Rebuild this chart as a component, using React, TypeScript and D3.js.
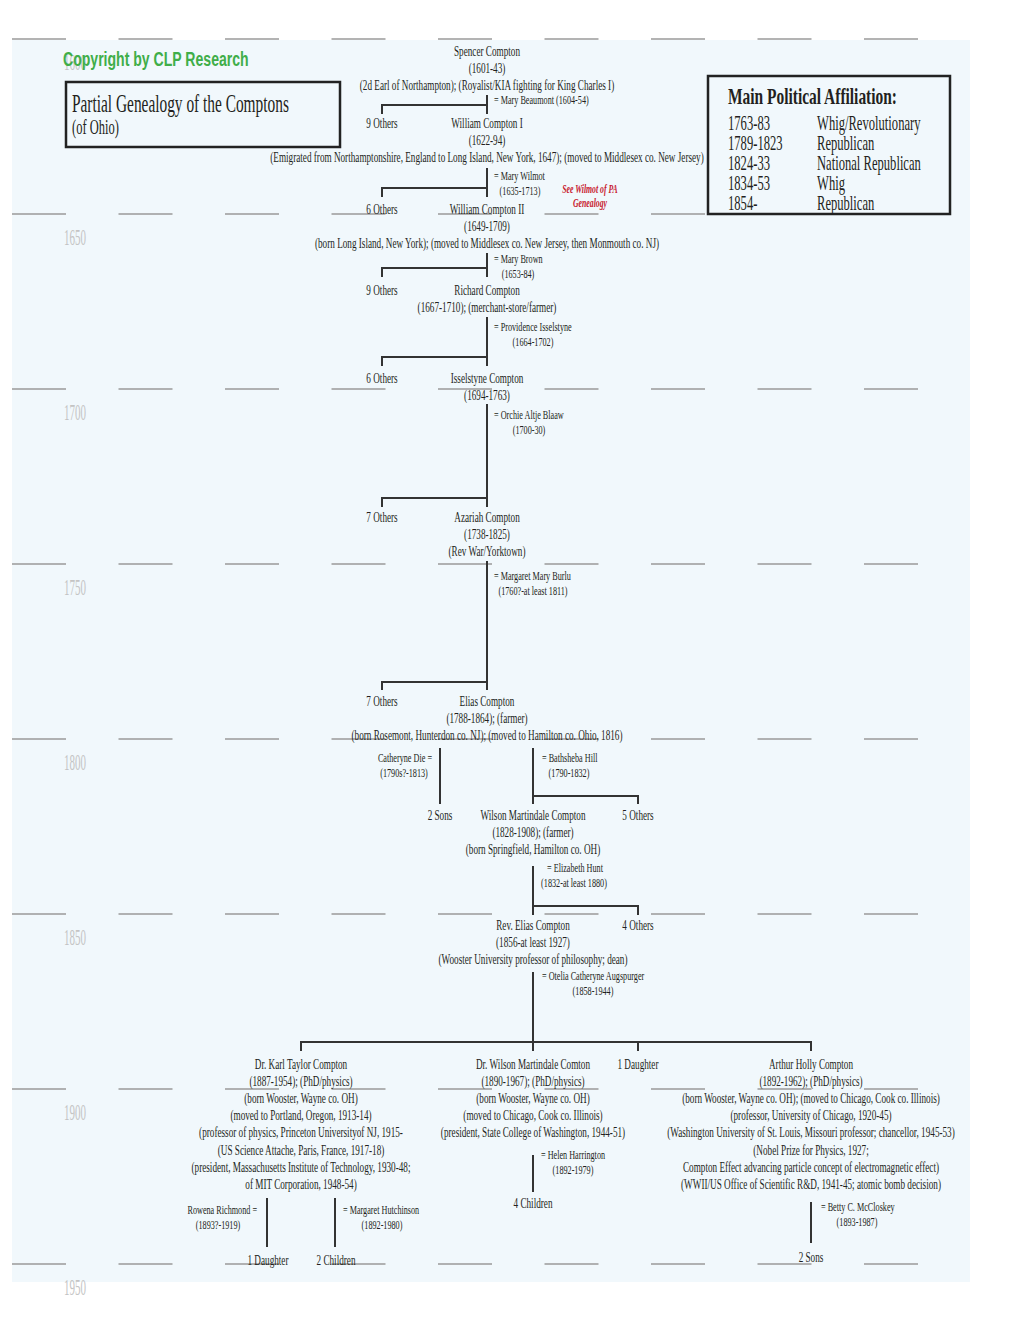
import React from "react";
import * as d3 from "d3";

// ---------- data ----------
const timelineYears = [1600, 1650, 1700, 1750, 1800, 1850, 1900, 1950];

const affiliationPeriods = ["1763-83", "1789-1823", "1824-33", "1834-53", "1854-"];
const affiliationParties = ["Whig/Revolutionary", "Republican", "National Republican", "Whig", "Republican"];

// persons: x = column centre, at = timeline year of first text line
const persons = [
  { x: 487, at: 1604.86, lines: ["Spencer Compton", "(1601-43)", "(2d Earl of Northampton); (Royalist/KIA fighting for King Charles I)"] },
  { x: 382, at: 1625.43, lines: ["9 Others"] },
  { x: 487, at: 1625.43, lines: ["William Compton I", "(1622-94)", "(Emigrated from Northamptonshire, England to Long Island, New York, 1647); (moved to Middlesex co. New Jersey)"] },
  { x: 382, at: 1650, lines: ["6 Others"] },
  { x: 487, at: 1650, lines: ["William Compton II", "(1649-1709)", "(born Long Island, New York); (moved to Middlesex co. New Jersey, then Monmouth co. NJ)"] },
  { x: 382, at: 1673.14, lines: ["9 Others"] },
  { x: 487, at: 1673.14, lines: ["Richard Compton", "(1667-1710); (merchant-store/farmer)"] },
  { x: 382, at: 1698.29, lines: ["6 Others"] },
  { x: 487, at: 1698.29, lines: ["Isselstyne Compton", "(1694-1763)"] },
  { x: 382, at: 1738, lines: ["7 Others"] },
  { x: 487, at: 1738, lines: ["Azariah Compton", "(1738-1825)", "(Rev War/Yorktown)"] },
  { x: 382, at: 1790.57, lines: ["7 Others"] },
  { x: 487, at: 1790.57, lines: ["Elias Compton", "(1788-1864); (farmer)", "(born Rosemont, Hunterdon co. NJ); (moved to Hamilton co. Ohio, 1816)"] },
  { x: 440, at: 1823.14, lines: ["2 Sons"] },
  { x: 533, at: 1823.14, lines: ["Wilson Martindale Compton", "(1828-1908); (farmer)", "(born Springfield, Hamilton co. OH)"] },
  { x: 638, at: 1823.14, lines: ["5 Others"] },
  { x: 533, at: 1854.57, lines: ["Rev. Elias Compton", "(1856-at least 1927)", "(Wooster University professor of philosophy; dean)"] },
  { x: 638, at: 1854.57, lines: ["4 Others"] },
  { x: 301, at: 1894.29, lines: ["Dr. Karl Taylor Compton", "(1887-1954); (PhD/physics)", "(born Wooster, Wayne co. OH)", "(moved to Portland, Oregon, 1913-14)", "(professor of physics, Princeton Universityof NJ, 1915-", "(US Science Attache, Paris, France, 1917-18)", "(president, Massachusetts Institute of Technology, 1930-48;", "of MIT Corporation, 1948-54)"] },
  { x: 533, at: 1894.29, lines: ["Dr. Wilson Martindale Comton", "(1890-1967); (PhD/physics)", "(born Wooster, Wayne co. OH)", "(moved to Chicago, Cook co. Illinois)", "(president, State College of Washington, 1944-51)"] },
  { x: 638, at: 1894.29, lines: ["1 Daughter"] },
  { x: 811, at: 1894.29, lines: ["Arthur Holly Compton", "(1892-1962); (PhD/physics)", "(born Wooster, Wayne co. OH); (moved to Chicago, Cook co. Illinois)", "(professor, University of Chicago, 1920-45)", "(Washington University of St. Louis, Missouri professor; chancellor, 1945-53)", "(Nobel Prize for Physics, 1927;", "Compton Effect advancing particle concept of electromagnetic effect)", "(WWII/US Office of Scientific R&D, 1941-45; atomic bomb decision)"] },
  { x: 533, at: 1934, lines: ["4 Children"] },
  { x: 268, at: 1950.29, lines: ["1 Daughter"] },
  { x: 336, at: 1950.29, lines: ["2 Children"] },
  { x: 811, at: 1949.43, lines: ["2 Sons"] },
];

// spouses: edge = x of the text next to the line, centre = centre of the block
const spouses = [
  { edge: 494, side: "right", centre: 541, at: 1618.57, name: "= Mary Beaumont (1604-54)", dates: "" },
  { edge: 494, side: "right", centre: 520, at: 1640.29, name: "= Mary Wilmot", dates: "(1635-1713)" },
  { edge: 494, side: "right", centre: 518, at: 1664, name: "= Mary Brown", dates: "(1653-84)" },
  { edge: 494, side: "right", centre: 533, at: 1683.43, name: "= Providence Isselstyne", dates: "(1664-1702)" },
  { edge: 494, side: "right", centre: 529, at: 1708.57, name: "= Orchie Altje Blaaw", dates: "(1700-30)" },
  { edge: 494, side: "right", centre: 533, at: 1754.57, name: "= Margaret Mary Burlu", dates: "(1760?-at least 1811)" },
  { edge: 432, side: "left", centre: 404, at: 1806.57, name: "Catheryne Die =", dates: "(1790s?-1813)" },
  { edge: 542, side: "right", centre: 569, at: 1806.57, name: "= Bathsheba Hill", dates: "(1790-1832)" },
  { edge: 547, side: "right", centre: 574, at: 1838, name: "= Elizabeth Hunt", dates: "(1832-at least 1880)" },
  { edge: 542, side: "right", centre: 593, at: 1868.86, name: "= Otelia Catheryne Augspurger", dates: "(1858-1944)" },
  { edge: 541, side: "right", centre: 573, at: 1920, name: "= Helen Harrington", dates: "(1892-1979)" },
  { edge: 257, side: "left", centre: 218, at: 1935.71, name: "Rowena Richmond =", dates: "(1893?-1919)" },
  { edge: 343, side: "right", centre: 382, at: 1935.71, name: "= Margaret Hutchinson", dates: "(1892-1980)" },
  { edge: 821, side: "right", centre: 857, at: 1934.86, name: "= Betty C. McCloskey", dates: "(1893-1987)" },
];

// families: stem x, stem top/end (years), sibling bar (year), children x
const families = [
  { stem: 487, top: 1616.0, bar: 1618.86, end: 1621.43, kids: [382, 487] },
  { stem: 487, top: 1636.86, bar: 1642.57, end: 1645.14, kids: [382, 487] },
  { stem: 487, top: 1661.14, bar: 1665.43, end: 1668.0, kids: [382, 487] },
  { stem: 487, top: 1679.43, bar: 1690.86, end: 1693.43, kids: [382, 487] },
  { stem: 487, top: 1704.29, bar: 1731.14, end: 1733.71, kids: [382, 487] },
  { stem: 487, top: 1749.14, bar: 1783.71, end: 1786.0, kids: [382, 487] },
  { stem: 440, top: 1802.57, bar: null, end: 1818.57, kids: [] },
  { stem: 533, top: 1802.57, bar: 1816.29, end: 1818.57, kids: [533, 638] },
  { stem: 533, top: 1836.29, bar: 1847.71, end: 1850.29, kids: [533, 638] },
  { stem: 533, top: 1866.57, bar: 1886.57, end: 1889.14, kids: [301, 533, 638, 811] },
  { stem: 533, top: 1918.86, bar: null, end: 1929.43, kids: [] },
  { stem: 267, top: 1931.14, bar: null, end: 1945.14, kids: [] },
  { stem: 335, top: 1931.14, bar: null, end: 1945.14, kids: [] },
  { stem: 811, top: 1932.29, bar: null, end: 1944.0, kids: [] },
];

// ---------- layout ----------
const W = 1020;
const H = 1320;
const yScale = d3.scaleLinear().domain([1600, 1950]).range([39, 1264]);
const dashScale = d3.scaleLinear().domain([0, 8]).range([12, 864]);
const dashLen = 54;
const LH = 17.1;
const SLH = 15;
const INK = "#231f20";
const SERIF = "'Liberation Serif', 'Times New Roman', serif";

function T({ x, y, s = 14.5, sx = 0.633, anchor = "middle", fill = INK, weight = "normal", fstyle = "normal", family = SERIF, children }: any) {
  return (
    <text
      transform={`translate(${x},${y}) scale(${sx},1)`}
      fontSize={s}
      textAnchor={anchor}
      fill={fill}
      fontWeight={weight}
      fontStyle={fstyle}
      fontFamily={family}
    >
      {children}
    </text>
  );
}

export default function App() {
  const lineC = "#333333";
  return (
    <svg width={W} height={H} style={{ display: "block", position: "absolute", left: 0, top: 0 }}>
      <rect x={0} y={0} width={W} height={H} fill="#ffffff" />
      <rect x={12} y={40} width={958} height={1242} fill="#f1f8fc" />

      {/* timeline dashes and year labels */}
      {timelineYears.map((yr) => (
        <g key={yr}>
          {d3.range(9).map((i) => (
            <line key={i} x1={dashScale(i)} x2={dashScale(i) + dashLen} y1={yScale(yr)} y2={yScale(yr)} stroke="#9a9a9a" strokeWidth={1.4} />
          ))}
          <T x={64} y={yScale(yr) + 31} s={23} sx={0.48} anchor="start" fill="#c4c4c4">{yr}</T>
        </g>
      ))}

      {/* copyright */}
      <T x={63} y={66} s={21} sx={0.67} anchor="start" fill="#3fae49" weight="bold" family="'Liberation Sans', Arial, sans-serif">Copyright by CLP Research</T>

      {/* title box */}
      <rect x={66} y={82} width={274} height={65} fill="none" stroke="#222" strokeWidth={2.5} />
      <T x={72} y={112} s={25} sx={0.615} anchor="start">Partial Genealogy of the Comptons</T>
      <T x={72} y={134} s={20} sx={0.625} anchor="start">(of Ohio)</T>

      {/* legend box */}
      <rect x={708} y={76} width={242} height={138} fill="#f1f8fc" stroke="#222" strokeWidth={2.5} />
      <T x={728} y={104} s={23} sx={0.672} anchor="start" weight="bold">Main Political Affiliation:</T>
      {affiliationPeriods.map((p, i) => (
        <g key={p + i}>
          <T x={728} y={130 + i * 20} s={20} sx={0.63} anchor="start">{p}</T>
          <T x={817} y={130 + i * 20} s={20} sx={0.63} anchor="start">{affiliationParties[i]}</T>
        </g>
      ))}

      {/* connectors */}
      {families.map((f, i) => {
        const xs = f.kids;
        return (
          <g key={i} stroke={lineC} strokeWidth={2} fill="none">
            <line x1={f.stem} x2={f.stem} y1={yScale(f.top)} y2={yScale(f.end)} />
            {f.bar !== null && xs.length > 0 && (
              <line x1={Math.min(...xs) - 1} x2={Math.max(...xs) + 1} y1={yScale(f.bar)} y2={yScale(f.bar)} />
            )}
            {f.bar !== null &&
              xs.filter((k) => k !== f.stem).map((k) => (
                <line key={k} x1={k} x2={k} y1={yScale(f.bar)} y2={yScale(f.end)} />
              ))}
          </g>
        );
      })}

      {/* persons */}
      {persons.map((p, i) => (
        <g key={i}>
          {p.lines.map((l, j) => (
            <T key={j} x={p.x} y={yScale(p.at) + j * LH}>{l}</T>
          ))}
        </g>
      ))}

      {/* spouses */}
      {spouses.map((s, i) => (
        <g key={i}>
          <T x={s.edge} y={yScale(s.at)} s={12.5} sx={0.655} anchor={s.side === "right" ? "start" : "end"}>{s.name}</T>
          {s.dates && <T x={s.centre} y={yScale(s.at) + SLH} s={12.5} sx={0.655}>{s.dates}</T>}
        </g>
      ))}

      {/* cross-reference note */}
      <T x={590} y={yScale(1644)} s={12.5} sx={0.62} fill="#c8202f" weight="bold" fstyle="italic">See Wilmot of PA</T>
      <T x={590} y={yScale(1644) + 14} s={12.5} sx={0.62} fill="#c8202f" weight="bold" fstyle="italic">Genealogy</T>
    </svg>
  );
}
